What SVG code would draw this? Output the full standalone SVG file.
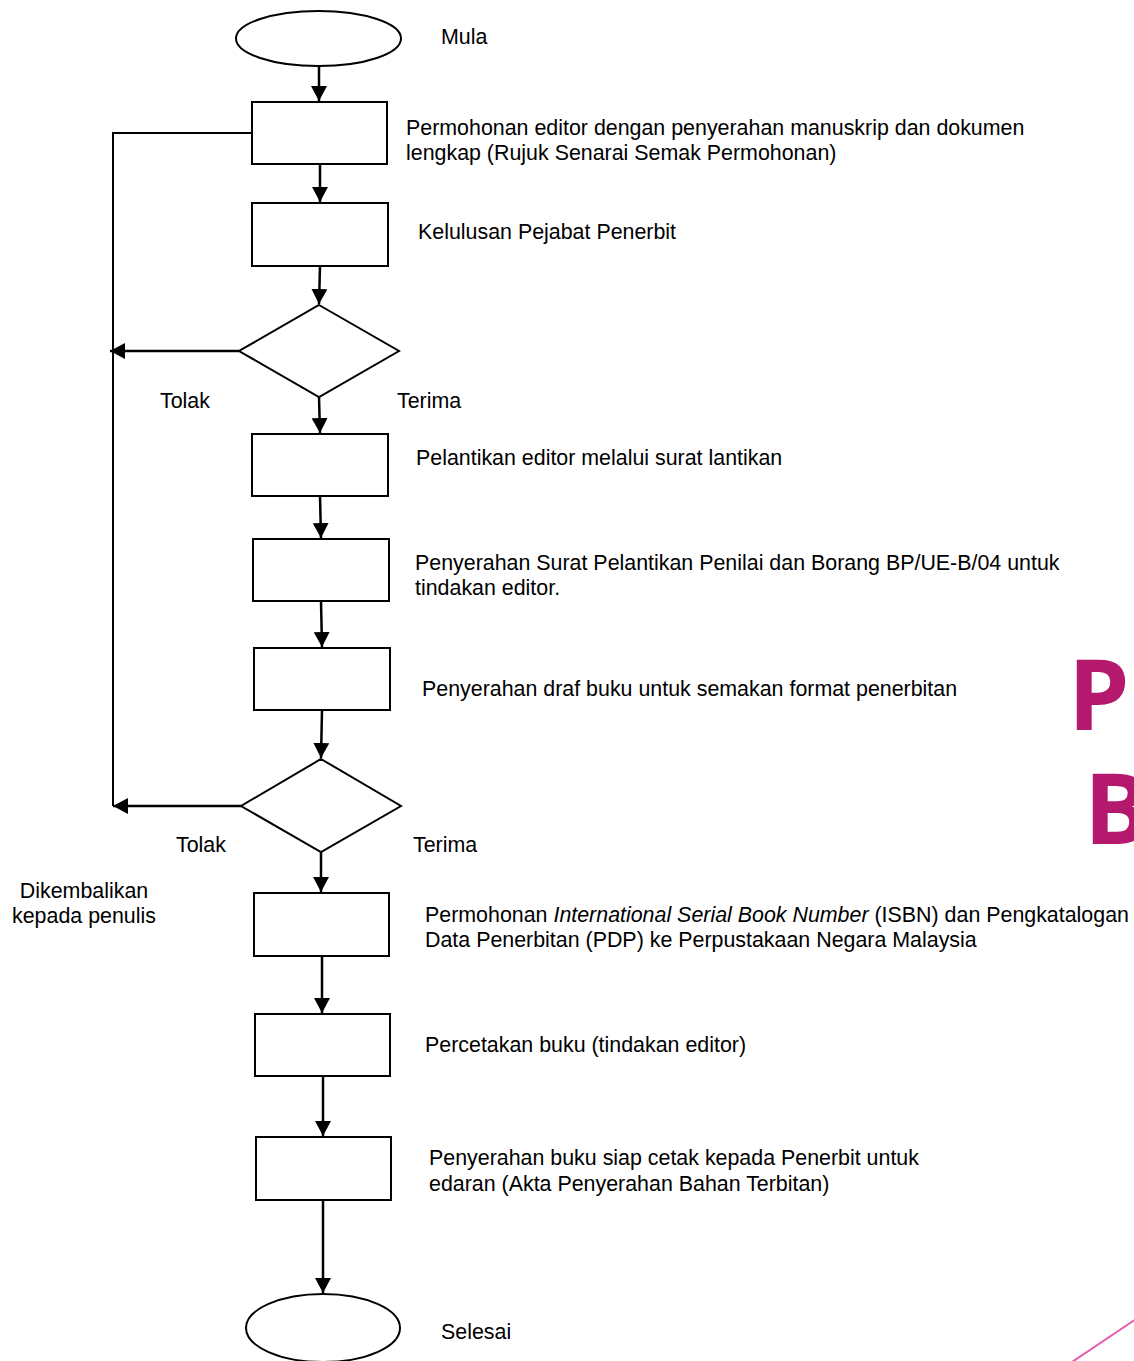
<svg xmlns="http://www.w3.org/2000/svg" width="1134" height="1361" viewBox="0 0 1134 1361">
<style>
.s{fill:#fff;stroke:#000;stroke-width:2}
.c{fill:none;stroke:#000;stroke-width:2.5}
.t{font-family:"Liberation Sans",Arial,sans-serif;font-size:21.4px;fill:#000}
.m{font-family:"Open Sans","Noto Sans",sans-serif;font-weight:bold;font-size:98px;fill:#B5196E}
</style>
<defs>
<marker id="ah" markerWidth="15" markerHeight="16" viewBox="0 0 15 16" refX="15" refY="8" orient="auto" markerUnits="userSpaceOnUse">
<path d="M0,0 L15,8 L0,16 Z" fill="#000"/>
</marker>
</defs>
<rect width="1134" height="1361" fill="#fff"/>
<g id="deco">
<text class="m" x="1068" y="730">P</text>
<text class="m" x="1084" y="844">B</text>
<line x1="1072" y1="1362" x2="1136" y2="1319" stroke="#E85AAE" stroke-width="2"/>
</g>
<g id="connectors">
<line class="c" x1="319" y1="66" x2="319" y2="101" marker-end="url(#ah)"/>
<line class="c" x1="320" y1="164" x2="320" y2="202" marker-end="url(#ah)"/>
<line class="c" x1="320" y1="266" x2="319" y2="304" marker-end="url(#ah)"/>
<line class="c" x1="319" y1="397" x2="320" y2="433" marker-end="url(#ah)"/>
<line class="c" x1="320" y1="496" x2="321" y2="538" marker-end="url(#ah)"/>
<line class="c" x1="321" y1="601" x2="322" y2="647" marker-end="url(#ah)"/>
<line class="c" x1="322" y1="710" x2="321" y2="758" marker-end="url(#ah)"/>
<line class="c" x1="321" y1="852" x2="321" y2="892" marker-end="url(#ah)"/>
<line class="c" x1="322" y1="956" x2="322" y2="1013" marker-end="url(#ah)"/>
<line class="c" x1="323" y1="1076" x2="323" y2="1136" marker-end="url(#ah)"/>
<line class="c" x1="323" y1="1200" x2="323" y2="1293" marker-end="url(#ah)"/>
<line class="c" x1="239" y1="351" x2="110" y2="351" marker-end="url(#ah)"/>
<line class="c" x1="241" y1="806" x2="113" y2="806" marker-end="url(#ah)"/>
<polyline fill="none" stroke="#000" stroke-width="2" points="252,133 113,133 113,806"/>
</g>
<g id="start"><ellipse class="s" cx="318.5" cy="38.5" rx="82.5" ry="27.5"/><text class="t" x="441" y="44">Mula</text></g>
<g id="n1"><rect class="s" x="252" y="102" width="135" height="62"/><text class="t" x="406" y="135">Permohonan editor dengan penyerahan manuskrip dan dokumen</text><text class="t" x="406" y="160">lengkap (Rujuk Senarai Semak Permohonan)</text></g>
<g id="n2"><rect class="s" x="252" y="203" width="136" height="63"/><text class="t" x="418" y="239">Kelulusan Pejabat Penerbit</text></g>
<g id="d1"><polygon class="s" points="319,305 399,351 319,397 239,351"/><text class="t" x="160" y="408">Tolak</text><text class="t" x="397" y="408">Terima</text></g>
<g id="n3"><rect class="s" x="252" y="434" width="136" height="62"/><text class="t" x="416" y="465">Pelantikan editor melalui surat lantikan</text></g>
<g id="n4"><rect class="s" x="253" y="539" width="136" height="62"/><text class="t" x="415" y="570">Penyerahan Surat Pelantikan Penilai dan Borang BP/UE-B/04 untuk</text><text class="t" x="415" y="595">tindakan editor.</text></g>
<g id="n5"><rect class="s" x="254" y="648" width="136" height="62"/><text class="t" x="422" y="696">Penyerahan draf buku untuk semakan format penerbitan</text></g>
<g id="d2"><polygon class="s" points="321,759 401,806 321,852 241,806"/><text class="t" x="176" y="852">Tolak</text><text class="t" x="413" y="852">Terima</text></g>
<g id="ret"><text class="t" x="84" y="898" text-anchor="middle">Dikembalikan</text><text class="t" x="84" y="923" text-anchor="middle">kepada penulis</text></g>
<g id="n6"><rect class="s" x="254" y="893" width="135" height="63"/><text class="t" x="425" y="922">Permohonan <tspan font-style="italic">International Serial Book Number</tspan> (ISBN) dan Pengkatalogan</text><text class="t" x="425" y="947">Data Penerbitan (PDP) ke Perpustakaan Negara Malaysia</text></g>
<g id="n7"><rect class="s" x="255" y="1014" width="135" height="62"/><text class="t" x="425" y="1052">Percetakan buku (tindakan editor)</text></g>
<g id="n8"><rect class="s" x="256" y="1137" width="135" height="63"/><text class="t" x="429" y="1165">Penyerahan buku siap cetak kepada Penerbit untuk</text><text class="t" x="429" y="1191">edaran (Akta Penyerahan Bahan Terbitan)</text></g>
<g id="end"><ellipse class="s" cx="323" cy="1328" rx="77" ry="34"/><text class="t" x="441" y="1339">Selesai</text></g>
</svg>
